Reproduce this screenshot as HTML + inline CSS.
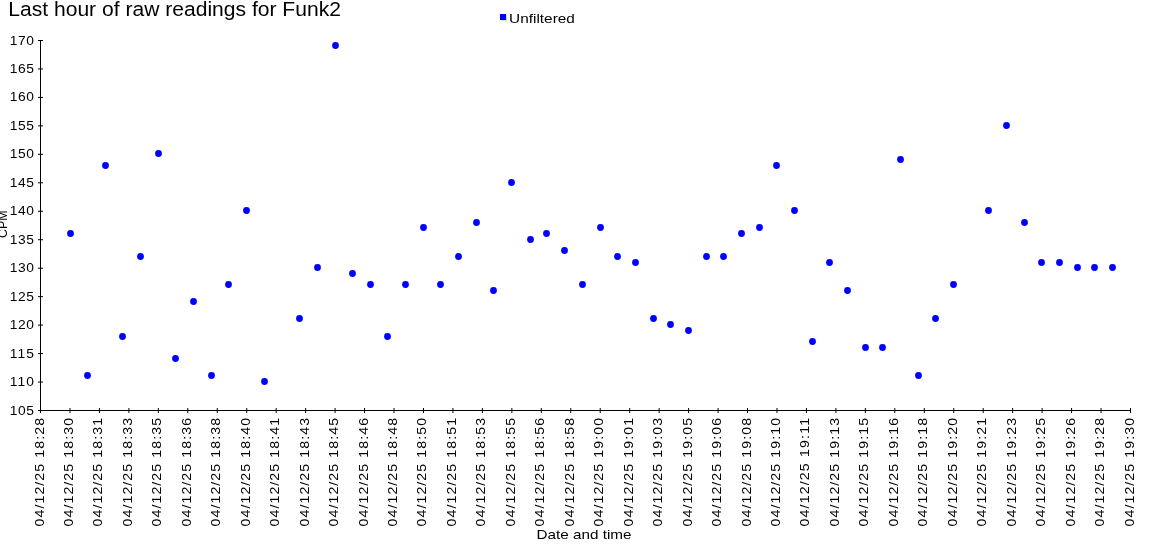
<!DOCTYPE html><html><head><meta charset="utf-8"><style>html,body{margin:0;padding:0;background:#fff;width:1150px;height:560px;overflow:hidden}svg{display:block;will-change:transform}text{font-family:"Liberation Sans",sans-serif;fill:#000}</style></head><body>
<svg width="1150" height="560" viewBox="0 0 1150 560">
<text x="8.3" y="15.9" font-size="19.7" textLength="332.6" lengthAdjust="spacingAndGlyphs">Last hour of raw readings for Funk2</text>
<rect x="501" y="15" width="6" height="6" fill="#d8d8d8"/><rect x="500" y="14" width="6" height="6" fill="#0000ff"/>
<text x="509.1" y="22.5" font-size="12.0" textLength="65.8" lengthAdjust="spacingAndGlyphs">Unfiltered</text>
<g stroke="#000" stroke-width="1" fill="none" shape-rendering="auto">
<path d="M40.5 40V410.5H1130.5"/>
<path d="M38 410.50H43 M38 382.04H43 M38 353.58H43 M38 325.12H43 M38 296.65H43 M38 268.19H43 M38 239.73H43 M38 211.27H43 M38 182.81H43 M38 154.35H43 M38 125.88H43 M38 97.42H43 M38 68.96H43 M38 40.50H43 M40.50 408V413 M69.96 408V413 M99.42 408V413 M128.88 408V413 M158.34 408V413 M187.80 408V413 M217.26 408V413 M246.72 408V413 M276.18 408V413 M305.64 408V413 M335.09 408V413 M364.55 408V413 M394.01 408V413 M423.47 408V413 M452.93 408V413 M482.39 408V413 M511.85 408V413 M541.31 408V413 M570.77 408V413 M600.23 408V413 M629.69 408V413 M659.15 408V413 M688.61 408V413 M718.07 408V413 M747.53 408V413 M776.99 408V413 M806.45 408V413 M835.91 408V413 M865.36 408V413 M894.82 408V413 M924.28 408V413 M953.74 408V413 M983.20 408V413 M1012.66 408V413 M1042.12 408V413 M1071.58 408V413 M1101.04 408V413 M1130.50 408V413"/>
</g>
<text transform="translate(34 414.60) scale(1.08 1)" font-size="12.8" text-anchor="end" textLength="22.41" lengthAdjust="spacing">105</text>
<text transform="translate(34 385.60) scale(1.08 1)" font-size="12.8" text-anchor="end" textLength="22.41" lengthAdjust="spacing">110</text>
<text transform="translate(34 357.60) scale(1.08 1)" font-size="12.8" text-anchor="end" textLength="22.41" lengthAdjust="spacing">115</text>
<text transform="translate(34 328.60) scale(1.08 1)" font-size="12.8" text-anchor="end" textLength="22.41" lengthAdjust="spacing">120</text>
<text transform="translate(34 300.60) scale(1.08 1)" font-size="12.8" text-anchor="end" textLength="22.41" lengthAdjust="spacing">125</text>
<text transform="translate(34 271.60) scale(1.08 1)" font-size="12.8" text-anchor="end" textLength="22.41" lengthAdjust="spacing">130</text>
<text transform="translate(34 243.60) scale(1.08 1)" font-size="12.8" text-anchor="end" textLength="22.41" lengthAdjust="spacing">135</text>
<text transform="translate(34 214.60) scale(1.08 1)" font-size="12.8" text-anchor="end" textLength="22.41" lengthAdjust="spacing">140</text>
<text transform="translate(34 186.60) scale(1.08 1)" font-size="12.8" text-anchor="end" textLength="22.41" lengthAdjust="spacing">145</text>
<text transform="translate(34 157.60) scale(1.08 1)" font-size="12.8" text-anchor="end" textLength="22.41" lengthAdjust="spacing">150</text>
<text transform="translate(34 129.60) scale(1.08 1)" font-size="12.8" text-anchor="end" textLength="22.41" lengthAdjust="spacing">155</text>
<text transform="translate(34 100.60) scale(1.08 1)" font-size="12.8" text-anchor="end" textLength="22.41" lengthAdjust="spacing">160</text>
<text transform="translate(34 72.60) scale(1.08 1)" font-size="12.8" text-anchor="end" textLength="22.41" lengthAdjust="spacing">165</text>
<text transform="translate(34 44.60) scale(1.08 1)" font-size="12.8" text-anchor="end" textLength="22.41" lengthAdjust="spacing">170</text>
<text transform="translate(44.20 418) rotate(-90) scale(1.13 1)" font-size="12.5" text-anchor="end" textLength="96.02" lengthAdjust="spacing">04/12/25 18:28</text>
<text transform="translate(73.20 418) rotate(-90) scale(1.13 1)" font-size="12.5" text-anchor="end" textLength="96.02" lengthAdjust="spacing">04/12/25 18:30</text>
<text transform="translate(102.20 418) rotate(-90) scale(1.13 1)" font-size="12.5" text-anchor="end" textLength="96.02" lengthAdjust="spacing">04/12/25 18:31</text>
<text transform="translate(132.20 418) rotate(-90) scale(1.13 1)" font-size="12.5" text-anchor="end" textLength="96.02" lengthAdjust="spacing">04/12/25 18:33</text>
<text transform="translate(161.20 418) rotate(-90) scale(1.13 1)" font-size="12.5" text-anchor="end" textLength="96.02" lengthAdjust="spacing">04/12/25 18:35</text>
<text transform="translate(191.20 418) rotate(-90) scale(1.13 1)" font-size="12.5" text-anchor="end" textLength="96.02" lengthAdjust="spacing">04/12/25 18:36</text>
<text transform="translate(220.20 418) rotate(-90) scale(1.13 1)" font-size="12.5" text-anchor="end" textLength="96.02" lengthAdjust="spacing">04/12/25 18:38</text>
<text transform="translate(250.20 418) rotate(-90) scale(1.13 1)" font-size="12.5" text-anchor="end" textLength="96.02" lengthAdjust="spacing">04/12/25 18:40</text>
<text transform="translate(279.20 418) rotate(-90) scale(1.13 1)" font-size="12.5" text-anchor="end" textLength="96.02" lengthAdjust="spacing">04/12/25 18:41</text>
<text transform="translate(309.20 418) rotate(-90) scale(1.13 1)" font-size="12.5" text-anchor="end" textLength="96.02" lengthAdjust="spacing">04/12/25 18:43</text>
<text transform="translate(338.20 418) rotate(-90) scale(1.13 1)" font-size="12.5" text-anchor="end" textLength="96.02" lengthAdjust="spacing">04/12/25 18:45</text>
<text transform="translate(368.20 418) rotate(-90) scale(1.13 1)" font-size="12.5" text-anchor="end" textLength="96.02" lengthAdjust="spacing">04/12/25 18:46</text>
<text transform="translate(397.20 418) rotate(-90) scale(1.13 1)" font-size="12.5" text-anchor="end" textLength="96.02" lengthAdjust="spacing">04/12/25 18:48</text>
<text transform="translate(426.20 418) rotate(-90) scale(1.13 1)" font-size="12.5" text-anchor="end" textLength="96.02" lengthAdjust="spacing">04/12/25 18:50</text>
<text transform="translate(456.20 418) rotate(-90) scale(1.13 1)" font-size="12.5" text-anchor="end" textLength="96.02" lengthAdjust="spacing">04/12/25 18:51</text>
<text transform="translate(485.20 418) rotate(-90) scale(1.13 1)" font-size="12.5" text-anchor="end" textLength="96.02" lengthAdjust="spacing">04/12/25 18:53</text>
<text transform="translate(515.20 418) rotate(-90) scale(1.13 1)" font-size="12.5" text-anchor="end" textLength="96.02" lengthAdjust="spacing">04/12/25 18:55</text>
<text transform="translate(544.20 418) rotate(-90) scale(1.13 1)" font-size="12.5" text-anchor="end" textLength="96.02" lengthAdjust="spacing">04/12/25 18:56</text>
<text transform="translate(574.20 418) rotate(-90) scale(1.13 1)" font-size="12.5" text-anchor="end" textLength="96.02" lengthAdjust="spacing">04/12/25 18:58</text>
<text transform="translate(603.20 418) rotate(-90) scale(1.13 1)" font-size="12.5" text-anchor="end" textLength="96.02" lengthAdjust="spacing">04/12/25 19:00</text>
<text transform="translate(633.20 418) rotate(-90) scale(1.13 1)" font-size="12.5" text-anchor="end" textLength="96.02" lengthAdjust="spacing">04/12/25 19:01</text>
<text transform="translate(662.20 418) rotate(-90) scale(1.13 1)" font-size="12.5" text-anchor="end" textLength="96.02" lengthAdjust="spacing">04/12/25 19:03</text>
<text transform="translate(692.20 418) rotate(-90) scale(1.13 1)" font-size="12.5" text-anchor="end" textLength="96.02" lengthAdjust="spacing">04/12/25 19:05</text>
<text transform="translate(721.20 418) rotate(-90) scale(1.13 1)" font-size="12.5" text-anchor="end" textLength="96.02" lengthAdjust="spacing">04/12/25 19:06</text>
<text transform="translate(751.20 418) rotate(-90) scale(1.13 1)" font-size="12.5" text-anchor="end" textLength="96.02" lengthAdjust="spacing">04/12/25 19:08</text>
<text transform="translate(780.20 418) rotate(-90) scale(1.13 1)" font-size="12.5" text-anchor="end" textLength="96.02" lengthAdjust="spacing">04/12/25 19:10</text>
<text transform="translate(809.20 418) rotate(-90) scale(1.13 1)" font-size="12.5" text-anchor="end" textLength="96.02" lengthAdjust="spacing">04/12/25 19:11</text>
<text transform="translate(839.20 418) rotate(-90) scale(1.13 1)" font-size="12.5" text-anchor="end" textLength="96.02" lengthAdjust="spacing">04/12/25 19:13</text>
<text transform="translate(868.20 418) rotate(-90) scale(1.13 1)" font-size="12.5" text-anchor="end" textLength="96.02" lengthAdjust="spacing">04/12/25 19:15</text>
<text transform="translate(898.20 418) rotate(-90) scale(1.13 1)" font-size="12.5" text-anchor="end" textLength="96.02" lengthAdjust="spacing">04/12/25 19:16</text>
<text transform="translate(927.20 418) rotate(-90) scale(1.13 1)" font-size="12.5" text-anchor="end" textLength="96.02" lengthAdjust="spacing">04/12/25 19:18</text>
<text transform="translate(957.20 418) rotate(-90) scale(1.13 1)" font-size="12.5" text-anchor="end" textLength="96.02" lengthAdjust="spacing">04/12/25 19:20</text>
<text transform="translate(986.20 418) rotate(-90) scale(1.13 1)" font-size="12.5" text-anchor="end" textLength="96.02" lengthAdjust="spacing">04/12/25 19:21</text>
<text transform="translate(1016.20 418) rotate(-90) scale(1.13 1)" font-size="12.5" text-anchor="end" textLength="96.02" lengthAdjust="spacing">04/12/25 19:23</text>
<text transform="translate(1045.20 418) rotate(-90) scale(1.13 1)" font-size="12.5" text-anchor="end" textLength="96.02" lengthAdjust="spacing">04/12/25 19:25</text>
<text transform="translate(1075.20 418) rotate(-90) scale(1.13 1)" font-size="12.5" text-anchor="end" textLength="96.02" lengthAdjust="spacing">04/12/25 19:26</text>
<text transform="translate(1104.20 418) rotate(-90) scale(1.13 1)" font-size="12.5" text-anchor="end" textLength="96.02" lengthAdjust="spacing">04/12/25 19:28</text>
<text transform="translate(1134.20 418) rotate(-90) scale(1.13 1)" font-size="12.5" text-anchor="end" textLength="96.02" lengthAdjust="spacing">04/12/25 19:30</text>
<text x="584" y="538.9" font-size="12.4" text-anchor="middle" textLength="95" lengthAdjust="spacingAndGlyphs">Date and time</text>
<text transform="translate(6.8 224.3) rotate(-90)" font-size="12.4" text-anchor="middle" textLength="27.5" lengthAdjust="spacingAndGlyphs">CPM</text>
<g fill="#0000ff">
<circle cx="70.5" cy="233.5" r="3.4"/>
<circle cx="87.5" cy="375.5" r="3.4"/>
<circle cx="105.5" cy="165.5" r="3.4"/>
<circle cx="122.5" cy="336.5" r="3.4"/>
<circle cx="140.5" cy="256.5" r="3.4"/>
<circle cx="158.5" cy="153.5" r="3.4"/>
<circle cx="175.5" cy="358.5" r="3.4"/>
<circle cx="193.5" cy="301.5" r="3.4"/>
<circle cx="211.5" cy="375.5" r="3.4"/>
<circle cx="228.5" cy="284.5" r="3.4"/>
<circle cx="246.5" cy="210.5" r="3.4"/>
<circle cx="264.5" cy="381.5" r="3.4"/>
<circle cx="299.5" cy="318.5" r="3.4"/>
<circle cx="317.5" cy="267.5" r="3.4"/>
<circle cx="335.5" cy="45.5" r="3.4"/>
<circle cx="352.5" cy="273.5" r="3.4"/>
<circle cx="370.5" cy="284.5" r="3.4"/>
<circle cx="387.5" cy="336.5" r="3.4"/>
<circle cx="405.5" cy="284.5" r="3.4"/>
<circle cx="423.5" cy="227.5" r="3.4"/>
<circle cx="440.5" cy="284.5" r="3.4"/>
<circle cx="458.5" cy="256.5" r="3.4"/>
<circle cx="476.5" cy="222.5" r="3.4"/>
<circle cx="493.5" cy="290.5" r="3.4"/>
<circle cx="511.5" cy="182.5" r="3.4"/>
<circle cx="530.5" cy="239.5" r="3.4"/>
<circle cx="546.5" cy="233.5" r="3.4"/>
<circle cx="564.5" cy="250.5" r="3.4"/>
<circle cx="582.5" cy="284.5" r="3.4"/>
<circle cx="600.5" cy="227.5" r="3.4"/>
<circle cx="617.5" cy="256.5" r="3.4"/>
<circle cx="635.5" cy="262.5" r="3.4"/>
<circle cx="653.5" cy="318.5" r="3.4"/>
<circle cx="670.5" cy="324.5" r="3.4"/>
<circle cx="688.5" cy="330.5" r="3.4"/>
<circle cx="706.5" cy="256.5" r="3.4"/>
<circle cx="723.5" cy="256.5" r="3.4"/>
<circle cx="741.5" cy="233.5" r="3.4"/>
<circle cx="759.5" cy="227.5" r="3.4"/>
<circle cx="776.5" cy="165.5" r="3.4"/>
<circle cx="794.5" cy="210.5" r="3.4"/>
<circle cx="812.5" cy="341.5" r="3.4"/>
<circle cx="829.5" cy="262.5" r="3.4"/>
<circle cx="847.5" cy="290.5" r="3.4"/>
<circle cx="865.5" cy="347.5" r="3.4"/>
<circle cx="882.5" cy="347.5" r="3.4"/>
<circle cx="900.5" cy="159.5" r="3.4"/>
<circle cx="918.5" cy="375.5" r="3.4"/>
<circle cx="935.5" cy="318.5" r="3.4"/>
<circle cx="953.5" cy="284.5" r="3.4"/>
<circle cx="988.5" cy="210.5" r="3.4"/>
<circle cx="1006.5" cy="125.5" r="3.4"/>
<circle cx="1024.5" cy="222.5" r="3.4"/>
<circle cx="1041.5" cy="262.5" r="3.4"/>
<circle cx="1059.5" cy="262.5" r="3.4"/>
<circle cx="1077.5" cy="267.5" r="3.4"/>
<circle cx="1094.5" cy="267.5" r="3.4"/>
<circle cx="1112.5" cy="267.5" r="3.4"/>
</g></svg></body></html>
